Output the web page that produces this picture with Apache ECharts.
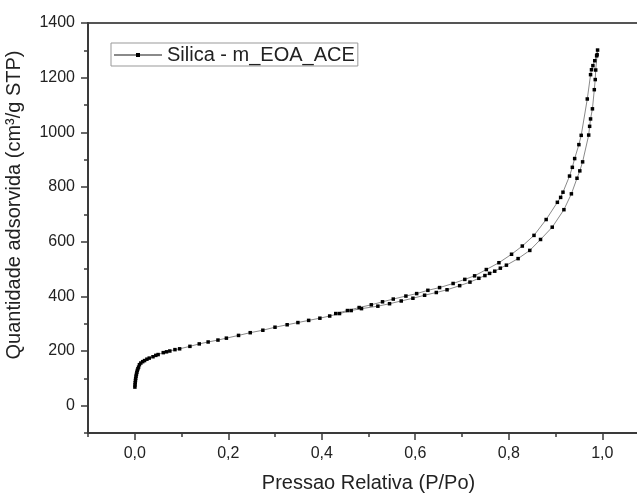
<!DOCTYPE html>
<html>
<head>
<meta charset="utf-8">
<script src="https://cdn.jsdelivr.net/npm/echarts@6/dist/echarts.min.js"></script>
<style>
html,body{margin:0;padding:0;background:#fff;overflow:hidden;}
#chart{width:650px;height:498px;}
</style>
</head>
<body>
<div id="chart"></div>
<script>
// Adsorption branch (P/Po, volume cm3/g STP)
const adsP = [0.0003,0.0006,0.001,0.0015,0.002,0.0028,0.0036,0.0045,0.0055,0.0068,0.0082,0.010,0.013,0.017,0.021,0.026,0.031,0.039,0.045,0.050,0.061,0.068,0.075,0.086,0.096,0.118,0.138,0.157,0.178,0.196,0.222,0.247,0.274,0.300,0.326,0.349,0.372,0.396,0.417,0.438,0.463,0.485,0.520,0.545,0.570,0.595,0.620,0.645,0.668,0.695,0.717,0.736,0.749,0.759,0.770,0.782,0.795,0.820,0.845,0.868,0.893,0.918,0.934,0.946,0.952,0.958,0.971,0.973,0.975,0.979,0.983,0.985,0.986,0.989,0.990];
const adsV = [68,76,84,92,100,108,115,122,129,135,141,150,156,161,165,170,174,179,184,187,194,197,200,205,208,217,226,233,240,247,257,267,276,287,296,304,312,320,328,337,348,355,364,373,383,393,404,414,424,439,452,466,476,484,492,503,514,538,568,608,653,717,775,832,859,892,990,1022,1049,1086,1156,1193,1228,1284,1301];
// Desorption branch
const desP = [0.988,0.984,0.980,0.977,0.975,0.968,0.955,0.950,0.941,0.936,0.930,0.916,0.911,0.904,0.880,0.854,0.829,0.806,0.779,0.752,0.727,0.706,0.681,0.652,0.627,0.603,0.580,0.553,0.530,0.506,0.480,0.455,0.430];
const desV = [1280,1262,1244,1229,1211,1122,989,955,904,872,840,781,762,744,681,623,584,554,523,498,475,462,447,432,422,410,401,390,380,369,359,348,337];
// Tick labels
const xMajor = [0,0.2,0.4,0.6,0.8,1.0];
const xMinor = [-0.1,0.1,0.3,0.5,0.7,0.9,1.1];
const yMajor = [0,200,400,600,800,1000,1200,1400];
const yMinor = [-100,100,300,500,700,900,1100,1300];

const seriesData = adsP.map((p,i)=>[p,adsV[i]]).concat(desP.map((p,i)=>[p,desV[i]]));

const FONT = 'Liberation Sans, Arial, sans-serif';
const TXT = '#222';
const AX = '#3a3a3a';

const chart = echarts.init(document.getElementById('chart'), null, {renderer:'canvas'});
chart.setOption({
  backgroundColor:'#fff',
  animation:false,
  grid:{left:88, top:23, right:1, bottom:62, show:true, borderColor:'#555', borderWidth:2, backgroundColor:'transparent'},
  legend:{
    left:111, top:43, orient:'horizontal',
    padding:[2,3,1,2],
    borderColor:'#999', borderWidth:1, borderRadius:0,
    backgroundColor:'#fff',
    itemWidth:48, itemHeight:5, itemGap:5,
    textStyle:{fontFamily:FONT, fontSize:20, color:TXT},
    data:['Silica - m_EOA_ACE']
  },
  xAxis:[{
    type:'value', min:-0.1, max:1.1, position:'bottom',
    name:'Pressao Relativa (P/Po)', nameLocation:'middle', nameGap:40,
    nameTextStyle:{fontFamily:FONT, fontSize:20, color:TXT},
    axisLine:{show:true, onZero:false, lineStyle:{color:AX, width:2}},
    axisTick:{show:true, length:7, customValues:xMajor, lineStyle:{color:AX, width:1.5}},
    axisLabel:{show:true, customValues:xMajor, margin:13, fontFamily:FONT, fontSize:16, color:TXT,
      formatter:v=>v.toFixed(1).replace('.',',')},
    splitLine:{show:false}
  },{
    type:'value', min:-0.1, max:1.1, position:'bottom',
    axisLine:{show:false, onZero:false},
    axisTick:{show:true, length:4, customValues:xMinor, lineStyle:{color:AX, width:1.5}},
    axisLabel:{show:false}, splitLine:{show:false}
  }],
  yAxis:[{
    type:'value', min:-100, max:1400, position:'left',
    axisLine:{show:true, onZero:false, lineStyle:{color:AX, width:2}},
    axisTick:{show:true, length:7, customValues:yMajor, lineStyle:{color:AX, width:1.5}},
    axisLabel:{show:true, customValues:yMajor, margin:13, fontFamily:FONT, fontSize:16, color:TXT,
      formatter:v=>String(v)},
    splitLine:{show:false}
  },{
    type:'value', min:-100, max:1400, position:'left',
    axisLine:{show:false, onZero:false},
    axisTick:{show:true, length:4, customValues:yMinor, lineStyle:{color:AX, width:1.5}},
    axisLabel:{show:false}, splitLine:{show:false}
  }],
  graphic:[{
    type:'text', x:14, y:205, rotation:Math.PI/2,
    style:{text:'Quantidade adsorvida (cm³/g STP)', font:'20px Liberation Sans, Arial, sans-serif', fill:TXT, align:'center', verticalAlign:'middle'}
  }],
  series:[{
    name:'Silica - m_EOA_ACE', type:'line', xAxisIndex:0, yAxisIndex:0,
    data:seriesData,
    symbol:'rect', symbolSize:3.5, showSymbol:true, showAllSymbol:true,
    lineStyle:{color:'#8a8a8a', width:1},
    itemStyle:{color:'#000'},
    emphasis:{disabled:true},
    smooth:false
  }]
});
</script>
</body>
</html>
